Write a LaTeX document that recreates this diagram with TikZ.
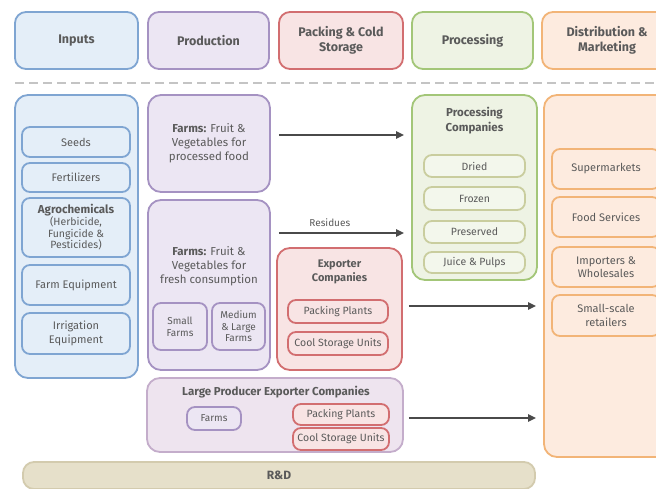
\documentclass[tikz,border=0pt]{standalone}
\usepackage{fontspec}
\setmainfont{Fira Sans}
\usetikzlibrary{arrows.meta,calc}
\definecolor{txt}{HTML}{5A5A5A}
\definecolor{bluefill}{HTML}{E4EEF8}
\definecolor{blueline}{HTML}{7FA5D2}
\definecolor{purpfill}{HTML}{ECE6F3}
\definecolor{purpline}{HTML}{A592C2}
\definecolor{redfill}{HTML}{F8E4E4}
\definecolor{redline}{HTML}{D26E70}
\definecolor{greenfill}{HTML}{EEF3E4}
\definecolor{greenline}{HTML}{A3C678}
\definecolor{subgreen}{HTML}{C9CD9E}
\definecolor{lpefill}{HTML}{EEE4EF}
\definecolor{lpeline}{HTML}{C4ADCB}
\definecolor{orfill}{HTML}{FDEBDF}
\definecolor{orline}{HTML}{F2B477}
\definecolor{rdfill}{HTML}{E6E0CA}
\definecolor{rdline}{HTML}{D3CBAE}
\definecolor{arrowc}{HTML}{4A4A4A}
\definecolor{dashc}{HTML}{C4C4C4}
\begin{document}
\begin{tikzpicture}[x=1pt,y=-1pt,
  box/.style={draw, rounded corners=11pt, line width=1.8pt, inner sep=1pt, align=center, text=txt},
  hdr/.style={box, minimum height=57pt, font=\bfseries\fontsize{12.5}{15.5}\selectfont},
  big/.style={box, rounded corners=13pt},
  sub/.style={box, rounded corners=8pt, font=\fontsize{10}{12}\selectfont},
  inp/.style={sub, fill=bluefill, draw=blueline, minimum width=108pt, font=\fontsize{11}{14}\selectfont},
  prd/.style={sub, fill=purpfill, draw=purpline},
  pck/.style={sub, fill=redfill, draw=redline, font=\fontsize{10.5}{12}\selectfont},
  prc/.style={sub, fill=greenfill!70!white, draw=subgreen, minimum width=101pt, font=\fontsize{10.5}{12}\selectfont},
  dst/.style={sub, fill=orfill, draw=orline, minimum width=108pt, font=\fontsize{11}{13.5}\selectfont},
  ttl/.style={text=txt, align=center, font=\bfseries\fontsize{11}{14}\selectfont},
  lbl/.style={text=txt, align=center, font=\fontsize{11.5}{14}\selectfont},
  arr/.style={draw=arrowc, line width=2.4pt, -{Triangle[length=8pt,width=7pt]}}
]
\useasboundingbox (0,0) rectangle (656,489);
\fill[white] (0,0) rectangle (656,489);

% header
\node[hdr, fill=bluefill, draw=blueline, minimum width=123pt] (hIn) at (76.5,40.5) {Inputs};
\node[hdr, fill=purpfill, draw=purpline, minimum width=121pt] (hPr) at (208.5,40.5) {Production};
\node[hdr, fill=redfill, draw=redline, minimum width=124pt] (hPk) at (341,40.5) {Packing \& Cold\\Storage};
\node[hdr, fill=greenfill, draw=greenline, minimum width=121pt] (hPc) at (472.5,40.5) {Processing};
\node[hdr, fill=orfill, draw=orline, minimum width=130pt] (hDi) at (607,40.5) {Distribution \&\\Marketing};

\coordinate (dl) at (15,83);
\coordinate (dr) at (656,83);
\draw[dashc, line width=2.6pt, dash pattern=on 9pt off 5pt] (dl) -- (dr);

% inputs column
\node[big, fill=bluefill, draw=blueline, minimum width=123pt, minimum height=283pt] (inputs) at (76.5,236.5) {};
\node[inp, minimum height=30pt] (seeds) at (76,142) {Seeds};
\node[inp, minimum height=29pt] (fert) at (76,177.5) {Fertilizers};
\node[inp, minimum height=59pt] (agro) at (76,227.5) {{\bfseries\fontsize{11.5}{13}\selectfont Agrochemicals}\\[-2pt]{\fontsize{10.5}{10.5}\selectfont (Herbicide,}\\[-2.5pt]{\fontsize{10.5}{10.5}\selectfont Fungicide \&}\\[-2.5pt]{\fontsize{10.5}{10.5}\selectfont Pesticides)}};
\node[inp, minimum height=40pt] (equip) at (76,285) {Farm Equipment};
\node[inp, minimum height=41pt] (irrig) at (76,333.5) {Irrigation\\Equipment};

% production column
\node[big, fill=purpfill, draw=purpline, minimum width=122pt, minimum height=97pt, font=\fontsize{11.5}{14}\selectfont] (prod1) at (209,143.5) {\textbf{Farms:} Fruit \&\\Vegetables for\\processed food};
\node[big, fill=purpfill, draw=purpline, minimum width=122pt, minimum height=170pt] (prod2) at (209,285) {};
\node[lbl] (prod2t) at (209,266) {\textbf{Farms:} Fruit \&\\Vegetables for\\fresh consumption};
\node[prd, minimum width=54pt, minimum height=47pt] (small) at (180,326.5) {Small\\Farms};
\node[prd, minimum width=53pt, minimum height=47pt, font=\fontsize{10}{11.5}\selectfont] (medium) at (238.5,326.5) {Medium\\\& Large\\Farms};

% large producer exporter
\node[big, fill=lpefill, draw=lpeline, minimum width=256pt, minimum height=74pt] (lpe) at (275,415) {};
\node[ttl, font=\bfseries\fontsize{11.5}{13}\selectfont] (lpet) at (276,392) {Large Producer Exporter Companies};
\node[prd, minimum width=54pt, minimum height=23pt] (lfarms) at (214,418.5) {Farms};
\node[pck, minimum width=96pt, minimum height=21pt] (lpack) at (341,414.5) {Packing Plants};
\node[pck, minimum width=96pt, minimum height=22pt] (lcool) at (341,439) {Cool Storage Units};

% R&D
\node[box, fill=rdfill, draw=rdline, minimum width=512pt, minimum height=27pt, font=\bfseries\fontsize{12}{14}\selectfont] (rd) at (279,475.5) {R\&D};

% exporter companies
\node[big, fill=redfill, draw=redline, minimum width=125pt, minimum height=122pt] (exp) at (339.5,309) {};
\node[ttl] (expt) at (339.5,272) {Exporter\\Companies};
\node[pck, minimum width=100pt, minimum height=23pt] (epack) at (338,311.5) {Packing Plants};
\node[pck, minimum width=100pt, minimum height=23pt] (ecool) at (338,343.5) {Cool Storage Units};

% processing companies
\node[big, fill=greenfill, draw=greenline, minimum width=125pt, minimum height=185pt] (proc) at (474.5,187.5) {};
\node[ttl, font=\bfseries\fontsize{11.5}{14.5}\selectfont] (proct) at (474.5,120.5) {Processing\\Companies};
\node[prc, minimum height=22pt] (dried) at (474.5,166) {Dried};
\node[prc, minimum height=23pt] (frozen) at (474.5,198.5) {Frozen};
\node[prc, minimum height=22pt] (pres) at (474.5,232) {Preserved};
\node[prc, minimum height=21pt] (juice) at (474.5,262.5) {Juice \& Pulps};

% distribution
\node[big, fill=orfill, draw=orline, minimum width=128pt, minimum height=362pt] (dist) at (608,276) {};
\node[dst, minimum height=40pt] (super) at (606,169) {Supermarkets};
\node[dst, minimum height=40pt] (food) at (606,217) {Food Services};
\node[dst, minimum height=40pt] (imp) at (606,267) {Importers \&\\Wholesales};
\node[dst, minimum height=41pt] (retail) at (606,315.5) {Small-scale\\retailers};

% arrows
\draw[arr, shorten <=8pt, shorten >=7pt] ([yshift=8.5pt]prod1.east) -- ([yshift=8.5pt]prod1.east -| proc.west);
\draw[arr, shorten <=8pt, shorten >=7pt] ([yshift=52pt]prod2.east) -- node[above=2pt, pos=0.42, text=txt, font=\fontsize{10}{12}\selectfont] (resid) {Residues} ([yshift=52pt]prod2.east -| proc.west);
\draw[arr, shorten <=6pt, shorten >=7pt] ([yshift=3pt]exp.east) -- ([yshift=3pt]exp.east -| dist.west);
\draw[arr, shorten <=5pt, shorten >=7pt] ([yshift=-3pt]lpe.east) -- ([yshift=-3pt]lpe.east -| dist.west);
\end{tikzpicture}
\end{document}
